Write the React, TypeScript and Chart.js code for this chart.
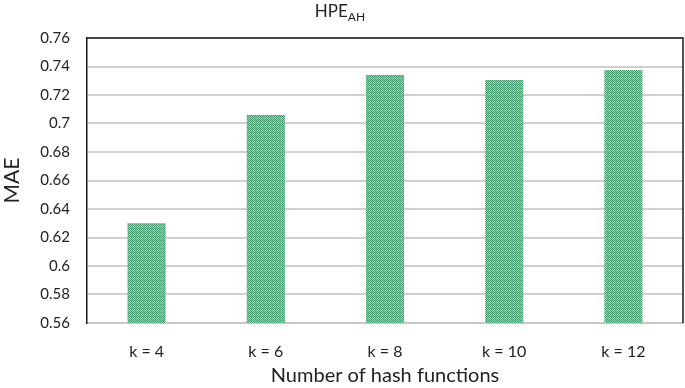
import React, { useEffect, useRef } from "react";
import { Chart, registerables } from "chart.js";

Chart.register(...registerables);

const categories = ["k = 4", "k = 6", "k = 8", "k = 10", "k = 12"];
const maeValues = [0.63, 0.706, 0.734, 0.7305, 0.7375];
const titleMain = "HPE";
const titleSub = "AH";
const yAxisTitle = "MAE";
const xAxisTitle = "Number of hash functions";

const FONT = "Lato, 'Open Sans', sans-serif";

function makePattern(ctx: CanvasRenderingContext2D): CanvasPattern | string {
  const c = document.createElement("canvas");
  c.width = 4;
  c.height = 4;
  const p = c.getContext("2d");
  if (!p) return "#66b585";
  for (let y = 0; y < 4; y++) {
    for (let x = 0; x < 4; x++) {
      p.fillStyle = (x + y) % 2 === 0 ? "#429b6c" : "#98d0ae";
      p.fillRect(x, y, 1, 1);
    }
  }
  p.fillStyle = "#ffffff";
  p.fillRect(1, 2, 1, 1);
  return ctx.createPattern(c, "repeat") || "#66b585";
}

export default function App() {
  const ref = useRef<HTMLCanvasElement>(null);
  useEffect(() => {
    document.body.style.margin = "0";
    const canvas = ref.current;
    if (!canvas) return;
    const ctx = canvas.getContext("2d");
    if (!ctx) return;
    const pattern = makePattern(ctx);

    const framePlugin = {
      id: "frame",
      afterDraw(chart: any) {
        const { ctx: c, chartArea: a } = chart;
        c.save();
        c.strokeStyle = "#1a1a1a";
        c.lineWidth = 1.5;
        c.beginPath();
        c.moveTo(a.left, a.top);
        c.lineTo(a.right, a.top);
        c.lineTo(a.right, a.bottom);
        c.stroke();
        // title with subscript
        c.fillStyle = "#222";
        c.textBaseline = "alphabetic";
        c.font = `17px ${FONT}`;
        const w1 = c.measureText(titleMain).width;
        c.font = `12px ${FONT}`;
        const w2 = c.measureText(titleSub).width;
        const cx = 340;
        const x0 = cx - (w1 + w2) / 2;
        c.font = `17px ${FONT}`;
        c.fillText(titleMain, x0, 17);
        c.font = `12px ${FONT}`;
        c.fillText(titleSub, x0 + w1, 21);
        c.restore();
      },
    };

    const chart = new Chart(ctx, {
      type: "bar",
      data: {
        labels: categories,
        datasets: [
          {
            data: maeValues,
            backgroundColor: pattern as any,
            borderWidth: 0,
            categoryPercentage: 1,
            barPercentage: 0.32,
          },
        ],
      },
      options: {
        animation: false,
        responsive: false,
        layout: { padding: { top: 38, right: 2, left: 0, bottom: 0 } },
        plugins: { legend: { display: false }, tooltip: { enabled: false } },
        scales: {
          x: {
            grid: { display: false, drawTicks: false },
            border: { display: true, color: "#c8c8c8", width: 2 },
            ticks: { color: "#222", font: { family: FONT, size: 16 }, padding: 19 },
            title: {
              display: true,
              text: xAxisTitle,
              color: "#222",
              font: { family: FONT, size: 20 },
              padding: { top: 6, bottom: 0 },
            },
            afterFit(scale: any) {
              scale.height = 65;
            },
          },
          y: {
            min: 0.56,
            max: 0.76,
            grid: { color: "#d0d0d0", lineWidth: 2, drawTicks: false },
            border: { display: true, color: "#1a1a1a", width: 1.5 },
            ticks: {
              stepSize: 0.02,
              color: "#222",
              padding: 17,
              font: { family: FONT, size: 15 },
              callback: (v: any) => String(Math.round(Number(v) * 100) / 100),
            },
            title: {
              display: true,
              text: yAxisTitle,
              color: "#222",
              font: { family: FONT, size: 21 },
              padding: { top: 0, bottom: 0 },
            },
            afterFit(scale: any) {
              scale.width = 87;
            },
          },
        },
      },
      plugins: [framePlugin],
    });
    return () => chart.destroy();
  }, []);
  return <canvas ref={ref} width={685} height={388} style={{ display: "block" }} />;
}
